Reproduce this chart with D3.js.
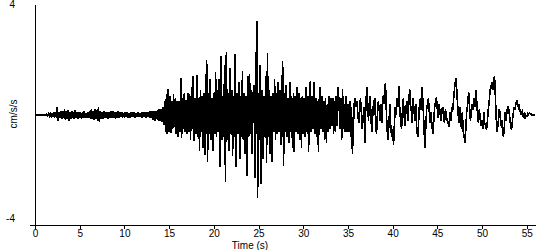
<!DOCTYPE html>
<html>
<head>
<meta charset="utf-8">
<script src="https://cdn.jsdelivr.net/npm/d3@7"></script>
<style>
  html, body { margin: 0; padding: 0; background: #fff; }
  svg { display: block; }
  text { font-family: Arial, "Liberation Sans", sans-serif; font-size: 10px; fill: #000; }
</style>
</head>
<body>
<svg id="chart" width="550" height="250"></svg>
<script>
// sample interval of the record (s)
var sampleStep = 0.1;

// acceleration (cm/s/s), one row per second of record
var accel = [
  0, 0, 0.01, 0, -0.01, 0, 0.01, 0, 0, 0.01,
  0, 0.01, -0.01, 0.02, -0.02, 0.05, -0.04, 0.06, -0.05, 0.08,
  -0.07, 0.1, -0.09, 0.12, -0.1, 0.3, -0.22, 0.1, -0.12, 0.14,
  -0.15, 0.16, -0.12, 0.2, -0.18, 0.14, -0.16, 0.18, -0.2, 0.12,
  -0.14, 0.15, -0.1, 0.12, -0.16, 0.18, -0.12, 0.1, -0.14, 0.12,
  -0.1, 0.12, -0.15, 0.1, -0.12, 0.14, -0.1, 0.08, -0.1, 0.12,
  -0.12, 0.16, -0.14, 0.2, -0.16, 0.14, -0.18, 0.22, -0.15, 0.18,
  -0.2, 0.3, -0.25, 0.16, -0.14, 0.12, -0.16, 0.14, -0.1, 0.12,
  -0.12, 0.1, -0.14, 0.12, -0.1, 0.14, -0.12, 0.16, -0.1, 0.12,
  -0.14, 0.12, -0.1, 0.14, -0.12, 0.1, -0.08, 0.12, -0.1, 0.08,
  -0.1, 0.12, -0.08, 0.1, -0.12, 0.08, -0.1, 0.12, -0.08, 0.1,
  -0.08, 0.1, -0.1, 0.08, -0.06, 0.1, -0.08, 0.06, -0.08, 0.1,
  -0.1, 0.12, -0.08, 0.1, -0.12, 0.1, -0.08, 0.12, -0.1, 0.14,
  -0.12, 0.15, -0.18, 0.14, -0.2, 0.16, -0.14, 0.18, -0.22, 0.2,
  -0.2, 0.22, -0.25, 0.3, -0.35, 0.5, -0.6, 0.75, -0.7, 0.95,
  -0.6, 0.7, -0.65, 0.5, -0.5, 0.75, -0.45, 0.6, -0.7, 0.5,
  -0.8, 0.5, -0.6, 1.35, -0.85, 0.6, -0.5, 0.8, -0.6, 0.55,
  -0.7, 0.8, -0.6, 0.75, -0.9, 1.0, -0.5, 1.4, -0.95, 0.6,
  -0.7, 1.45, -0.8, 0.6, -1.3, 0.9, -0.6, 0.7, -1.2, 0.8,
  -1.45, 0.7, 2.0, -1.7, 0.8, -0.7, 1.3, -0.9, 0.6, -1.3,
  0.8, -0.7, 1.55, -0.8, 0.9, -0.6, 1.3, -1.9, 2.15, -0.9,
  0.7, -0.8, 1.8, -2.45, 2.3, -0.9, 0.8, -1.3, 1.7, -0.7,
  0.9, -1.5, 0.7, -0.8, 2.2, -1.9, 0.8, -0.7, 1.2, -1.6,
  0.7, -0.8, 1.6, -0.9, 0.8, -1.4, 0.7, -2.2, 1.4, -0.8,
  1.5, -0.7, 0.9, -1.4, 0.8, 1.1, -2.3, 1.0, 3.4, -3.0,
  0.8, -0.9, 1.8, -2.5, 0.9, -1.6, 0.7, -0.8, 1.4, -1.75,
  2.25, -0.8, 0.9, -1.4, 0.7, -1.7, 0.8, -0.6, 1.3, -0.9,
  0.8, -0.7, 1.2, -0.6, 0.9, -1.1, 0.7, 1.95, -1.85, 0.8,
  -0.6, 1.1, -0.8, 0.6, -1.0, 1.2, -0.6, 0.7, -1.2, 0.8,
  -1.35, 0.7, -0.6, 1.0, -0.7, 0.8, -0.9, 0.6, -1.2, 0.7,
  -0.7, 0.6, -0.8, 1.0, -0.6, 0.7, -1.35, 0.6, 1.25, -0.6,
  0.7, -0.5, 1.2, -0.7, 0.6, -0.8, 0.5, -1.35, 0.6, 1.0,
  -0.5, 0.7, -0.6, 0.5, -0.9, 0.6, -1.0, 0.4, -0.6, 0.7,
  -0.5, 0.6, -0.4, 0.6, -0.7, 0.5, -0.6, 0.7, -0.4, 1.0,
  0.5, -0.5, 0.6, -0.9, 0.95, -0.5, 0.4, -0.6, 0.7, -0.6,
  0.4, -0.6, 0.5, -0.8, 0.3, -1.4, -0.6, 0.4, 0.6, 0.3,
  0.5, 0.1, -0.3, 0.2, 0.6, 0.1, -0.5, -0.1, 0.3, -1.0,
  0.3, 1.0, 0.4, -0.2, 0.5, 0.7, -0.3, -0.6, 0.2, 0.5,
  0.6, -0.4, -0.7, 0.1, 0.5, 0.2, -0.2, 0.4, -0.3, 0.7,
  0.4, 0.9, 1.17, 0.1, -0.6, -0.9, -0.2, 0.4, -0.5, -0.8,
  -0.5, -1.1, -0.3, 0.3, 0.0, 0.6, 0.3, 1.05, 0.2, -0.3,
  -0.5, 0.2, 0.6, -0.1, -0.4, 0.3, 0.5, -0.2, 0.4, 0.95,
  0.4, 0.1, -0.3, 0.6, 0.1, -0.2, 0.4, -0.5, -0.8, -0.3,
  0.4, 0.6, 0.2, 1.0, 0.4, -0.4, -1.2, -0.5, 0.2, 0.4,
  0.6, 0.1, -0.3, 0.1, -0.4, -0.7, -0.2, 0.3, 0.5, 0.65,
  0.2, -0.1, 0.4, 0.1, -0.2, 0.2, 0.3, -0.1, -0.3, 0.2,
  0.0, -0.2, -0.3, -0.43, 0.1, -0.2, 0.3, 0.1, 0.5, 0.9,
  1.2, 1.35, 0.7, 0.2, -0.3, 0.3, -0.2, -0.5, 0.1, -0.6,
  -0.8, -1.0, -0.4, 0.2, 0.4, 0.85, 0.3, -0.2, 0.1, 0.4,
  0.2, 0.6, 0.3, 0.9, 0.5, 0.0, -0.3, 0.2, -0.1, -0.4,
  -0.2, -0.5, 0.1, -0.3, -0.4, -0.55, -0.2, 0.2, 0.5, 0.9,
  1.0, 1.2, 0.9, 1.3, 1.4, 0.6, -0.2, -0.6, -0.3, 0.2,
  0.1, -0.4, -0.2, -0.6, -0.8, -0.4, 0.1, -0.2, 0.2, 0.3,
  0.2, -0.1, -0.4, -0.55, -0.2, 0.1, 0.3, 0.2, 0.45, 0.55,
  0.3, 0.4, 0.1, 0.2, 0.0, 0.1, -0.05, 0.05, -0.1, 0.0,
  -0.05, 0.05, 0.02, 0.08, 0.05, 0.03, 0.0, -0.02, 0.0, 0.0
];

var timeTicks = [0, 5, 10, 15, 20, 25, 30, 35, 40, 45, 50, 55];
var accelTicks = [4, -4];
var xTitle = "Time (s)";
var yTitle = "cm/s/s";

var svg = d3.select("#chart");

var x = d3.scaleLinear().domain([0, 56]).range([35, 535.7]);
var y = d3.scaleLinear().domain([-4, 4]).range([225, 5]);

// x axis: ticks below, line runs a little past the y axis on the left
var xAxis = svg.append("g")
    .attr("transform", "translate(0," + y(-4) + ")")
    .call(d3.axisBottom(x).tickValues(timeTicks).tickSize(4).tickSizeOuter(0).tickPadding(1));
xAxis.select(".domain").remove();
xAxis.append("line")
    .attr("x1", x(0) - 5).attr("x2", x(56))
    .attr("stroke", "#000").attr("shape-rendering", "crispEdges");
xAxis.selectAll(".tick line").attr("shape-rendering", "crispEdges");
xAxis.selectAll("text").attr("font-size", 10).attr("font-family", null);

// y axis: plain line with labels at the ends only
svg.append("line")
    .attr("x1", x(0)).attr("x2", x(0))
    .attr("y1", y(4)).attr("y2", y(-4))
    .attr("stroke", "#000").attr("shape-rendering", "crispEdges");

svg.selectAll(".ylab")
    .data(accelTicks)
    .enter().append("text")
    .attr("class", "ylab")
    .attr("x", 15)
    .attr("y", function (d) { return d > 0 ? y(d) + 3 : y(d) - 3; })
    .attr("text-anchor", "end")
    .text(function (d) { return d; });

svg.append("text")
    .attr("transform", "translate(17,114) rotate(-90)")
    .attr("text-anchor", "middle")
    .text(yTitle);

svg.append("text")
    .attr("x", 250)
    .attr("y", 249)
    .attr("text-anchor", "middle")
    .text(xTitle);

// the trace, drawn without smoothing like the original plot
var line = d3.line()
    .x(function (d, i) { return x(i * sampleStep); })
    .y(function (d) { return y(d); });

svg.append("path")
    .datum(accel)
    .attr("d", line)
    .attr("fill", "none")
    .attr("stroke", "#000")
    .attr("stroke-width", 1.6)
    .attr("shape-rendering", "crispEdges");
</script>
</body>
</html>
